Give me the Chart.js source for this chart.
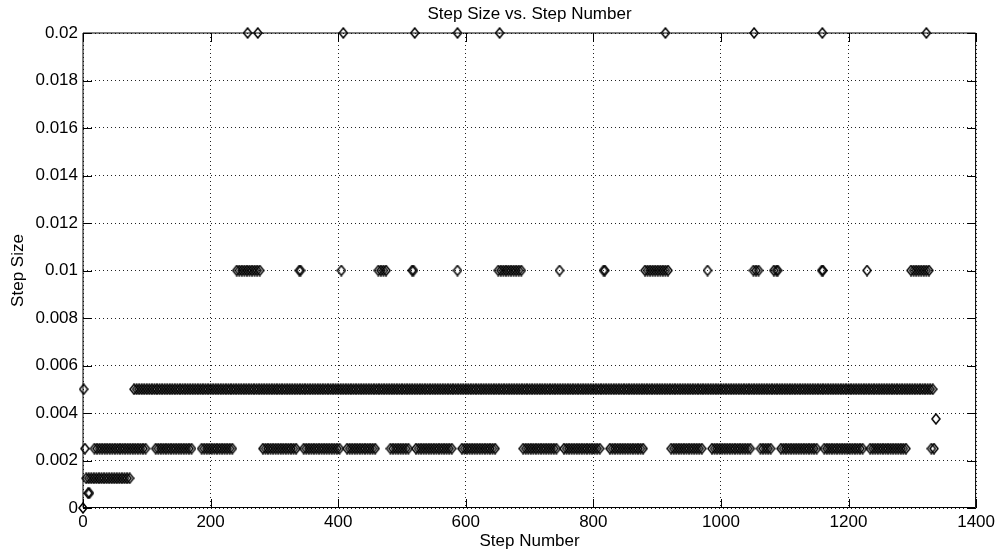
<!DOCTYPE html>
<html>
<head>
<meta charset="utf-8">
<title>Step Size vs. Step Number</title>
<script src="https://cdn.jsdelivr.net/npm/chart.js@4.4.1/dist/chart.umd.min.js"></script>
<style>
  html, body { margin: 0; padding: 0; background: #fff; }
  #wrap { width: 999px; height: 554px; }
</style>
</head>
<body>
<div id="wrap"><canvas id="stepChart" width="999" height="554"></canvas></div>
<script>
// step numbers, one list per step size level
const steps0 = [0];
const steps000625 = [8, 10];
const steps00125 = [5, 9, 13, 17, 21, 25, 29, 33, 37, 41, 45, 49, 53, 57, 61, 65, 69, 73];
const steps0025 = [
  3,
  18, 22, 26, 30, 34, 38, 42, 46, 50, 54, 58, 62, 66, 70, 74, 78, 82, 86, 90, 94, 98,
  114, 118, 122, 126, 130, 134, 138, 142, 146, 150, 154, 158, 162, 166, 170,
  186, 190, 194, 198, 202, 206, 210, 214, 218, 222, 226, 230, 234,
  282, 286, 290, 294, 298, 302, 306, 310, 314, 318, 322, 326, 330, 334,
  346, 350, 354, 358, 362, 366, 370, 374, 378, 382, 386, 390, 394, 398, 402,
  414, 418, 422, 426, 430, 434, 438, 442, 446, 450, 454, 458,
  482, 486, 490, 494, 498, 502, 506, 510,
  522, 526, 530, 534, 538, 542, 546, 550, 554, 558, 562, 566, 570, 574, 578,
  594, 598, 602, 606, 610, 614, 618, 622, 626, 630, 634, 638, 642, 646,
  690, 694, 698, 702, 706, 710, 714, 718, 722, 726, 730, 734, 738, 742,
  754, 758, 762, 766, 770, 774, 778, 782, 786, 790, 794, 798, 802, 806, 810,
  826, 830, 834, 838, 842, 846, 850, 854, 858, 862, 866, 870, 874, 878,
  922, 926, 930, 934, 938, 942, 946, 950, 954, 958, 962, 966, 970,
  986, 990, 994, 998, 1002, 1006, 1010, 1014, 1018, 1022, 1026, 1030, 1034, 1038, 1042, 1046,
  1062, 1066, 1070, 1074, 1078,
  1094, 1098, 1102, 1106, 1110, 1114, 1118, 1122, 1126, 1130, 1134, 1138, 1142, 1146, 1150,
  1162, 1166, 1170, 1174, 1178, 1182, 1186, 1190, 1194, 1198, 1202, 1206, 1210, 1214, 1218, 1222,
  1234, 1238, 1242, 1246, 1250, 1254, 1258, 1262, 1266, 1270, 1274, 1278, 1282, 1286, 1290,
  1330, 1334
];
const steps00375 = [1337];
const steps005 = [
  1,
  80, 84, 88, 92, 96, 100, 104, 108, 112, 116, 120, 124, 128, 132, 136, 140, 144, 148, 152, 156,
  160, 164, 168, 172, 176, 180, 184, 188, 192, 196, 200, 204, 208, 212, 216, 220, 224, 228, 232, 236,
  240, 244, 248, 252, 256, 260, 264, 268, 272, 276, 280, 284, 288, 292, 296, 300, 304, 308, 312, 316,
  320, 324, 328, 332, 336, 340, 344, 348, 352, 356, 360, 364, 368, 372, 376, 380, 384, 388, 392, 396,
  400, 404, 408, 412, 416, 420, 424, 428, 432, 436, 440, 444, 448, 452, 456, 460, 464, 468, 472, 476,
  480, 484, 488, 492, 496, 500, 504, 508, 512, 516, 520, 524, 528, 532, 536, 540, 544, 548, 552, 556,
  560, 564, 568, 572, 576, 580, 584, 588, 592, 596, 600, 604, 608, 612, 616, 620, 624, 628, 632, 636,
  640, 644, 648, 652, 656, 660, 664, 668, 672, 676, 680, 684, 688, 692, 696, 700, 704, 708, 712, 716,
  720, 724, 728, 732, 736, 740, 744, 748, 752, 756, 760, 764, 768, 772, 776, 780, 784, 788, 792, 796,
  800, 804, 808, 812, 816, 820, 824, 828, 832, 836, 840, 844, 848, 852, 856, 860, 864, 868, 872, 876,
  880, 884, 888, 892, 896, 900, 904, 908, 912, 916, 920, 924, 928, 932, 936, 940, 944, 948, 952, 956,
  960, 964, 968, 972, 976, 980, 984, 988, 992, 996, 1000, 1004, 1008, 1012, 1016, 1020, 1024, 1028, 1032, 1036,
  1040, 1044, 1048, 1052, 1056, 1060, 1064, 1068, 1072, 1076, 1080, 1084, 1088, 1092, 1096, 1100, 1104, 1108, 1112, 1116,
  1120, 1124, 1128, 1132, 1136, 1140, 1144, 1148, 1152, 1156, 1160, 1164, 1168, 1172, 1176, 1180, 1184, 1188, 1192, 1196,
  1200, 1204, 1208, 1212, 1216, 1220, 1224, 1228, 1232, 1236, 1240, 1244, 1248, 1252, 1256, 1260, 1264, 1268, 1272, 1276,
  1280, 1284, 1288, 1292, 1296, 1300, 1304, 1308, 1312, 1316, 1320, 1324, 1328, 1332
];
const steps001 = [
  241, 245, 249, 253, 257, 261, 265, 269, 273, 277,
  339, 341, 405,
  463, 467, 471, 475,
  516, 518, 587,
  651, 655, 659, 663, 667, 671, 675, 679, 683, 687,
  747, 816, 818,
  881, 885, 889, 893, 897, 901, 905, 909, 913, 917,
  979, 1051, 1055, 1059, 1083, 1087, 1089, 1158, 1160, 1229,
  1298, 1302, 1306, 1310, 1314, 1318, 1322, 1326
];
const steps002 = [258, 274, 408, 520, 587, 653, 913, 1052, 1159, 1322];

// y level for each list above
const levels = [
  [steps0, 0],
  [steps000625, 0.000625],
  [steps00125, 0.00125],
  [steps0025, 0.0025],
  [steps00375, 0.00375],
  [steps005, 0.005],
  [steps001, 0.01],
  [steps002, 0.02]
];

const xTicks = [0, 200, 400, 600, 800, 1000, 1200, 1400];
const yTicks = [0, 0.002, 0.004, 0.006, 0.008, 0.01, 0.012, 0.014, 0.016, 0.018, 0.02];

const chartTitle = "Step Size vs. Step Number";
const FONT = "'Liberation Sans', Arial, Helvetica, sans-serif";

// matlab style diamond marker, a bit taller than wide
function makeDiamond() {
  const c = document.createElement("canvas");
  c.width = 10;
  c.height = 12;
  const g = c.getContext("2d");
  g.strokeStyle = "#000";
  g.lineWidth = 1.5;
  g.beginPath();
  g.moveTo(5, 1);
  g.lineTo(9, 6);
  g.lineTo(5, 11);
  g.lineTo(1, 6);
  g.closePath();
  g.stroke();
  return c;
}

const points = [];
levels.forEach(([steps, size]) => {
  steps.forEach((s) => points.push({ x: s, y: size }));
});

// box round the plot, inward tick marks on all four sides, title centred over the axes
const matlabBox = {
  id: "matlabBox",
  afterDraw(chart) {
    const { ctx, chartArea: a, scales } = chart;
    const tl = 9;
    ctx.save();
    ctx.strokeStyle = "#000";
    ctx.lineWidth = 1;
    ctx.beginPath();
    ctx.moveTo(a.left, a.bottom - 0.5);
    ctx.lineTo(a.left, a.top);
    ctx.lineTo(a.right - 0.5, a.top);
    ctx.lineTo(a.right - 0.5, a.bottom - 0.5);
    ctx.closePath();
    xTicks.forEach((v) => {
      const px = Math.round(scales.x.getPixelForValue(v)) + 0.5;
      ctx.moveTo(px, a.bottom);
      ctx.lineTo(px, a.bottom - tl);
      ctx.moveTo(px, a.top);
      ctx.lineTo(px, a.top + tl);
    });
    yTicks.forEach((v) => {
      const py = Math.round(scales.y.getPixelForValue(v)) + 0.5;
      ctx.moveTo(a.left, py);
      ctx.lineTo(a.left + tl, py);
      ctx.moveTo(a.right, py);
      ctx.lineTo(a.right - tl, py);
    });
    ctx.stroke();

    ctx.fillStyle = "#000";
    ctx.font = "17px " + FONT;
    ctx.textAlign = "center";
    ctx.textBaseline = "middle";
    ctx.fillText(chartTitle, (a.left + a.right) / 2, 14);
    ctx.restore();
  },
};

new Chart(document.getElementById("stepChart"), {
  type: "scatter",
  data: {
    datasets: [
      {
        data: points,
        pointStyle: makeDiamond(),
        pointRadius: 5,
        borderColor: "#000",
        backgroundColor: "transparent",
        clip: false,
      },
    ],
  },
  options: {
    responsive: false,
    animation: false,
    events: [],
    layout: { padding: { left: 0, right: 22, top: 33, bottom: 0 } },
    plugins: {
      legend: { display: false },
      tooltip: { enabled: false },
      title: { display: false },
    },
    scales: {
      x: {
        type: "linear",
        min: 0,
        max: 1400,
        afterBuildTicks: (scale) => {
          scale.ticks = xTicks.map((v) => ({ value: v }));
        },
        ticks: {
          color: "#000",
          font: { family: FONT, size: 17 },
          padding: 4,
          maxRotation: 0,
          callback: (v) => String(v),
        },
        grid: { color: "#222", lineWidth: 1, drawTicks: false },
        border: { display: false, dash: [1, 3] },
        title: {
          display: true,
          text: "Step Number",
          color: "#000",
          font: { family: FONT, size: 17 },
          padding: { top: 0, bottom: 2 },
        },
        afterFit: (scale) => {
          scale.height = 46;
        },
      },
      y: {
        type: "linear",
        min: 0,
        max: 0.02,
        afterBuildTicks: (scale) => {
          scale.ticks = yTicks.map((v) => ({ value: v }));
        },
        ticks: {
          color: "#000",
          font: { family: FONT, size: 17 },
          padding: 5,
          callback: (v) => String(+v.toFixed(3)),
        },
        grid: { color: "#222", lineWidth: 1, drawTicks: false },
        border: { display: false, dash: [1, 3] },
        title: {
          display: true,
          text: "Step Size",
          color: "#000",
          font: { family: FONT, size: 17 },
          padding: { top: 8, bottom: 0 },
        },
        afterFit: (scale) => {
          scale.width = 83;
        },
      },
    },
  },
  plugins: [matlabBox],
});
</script>
</body>
</html>
